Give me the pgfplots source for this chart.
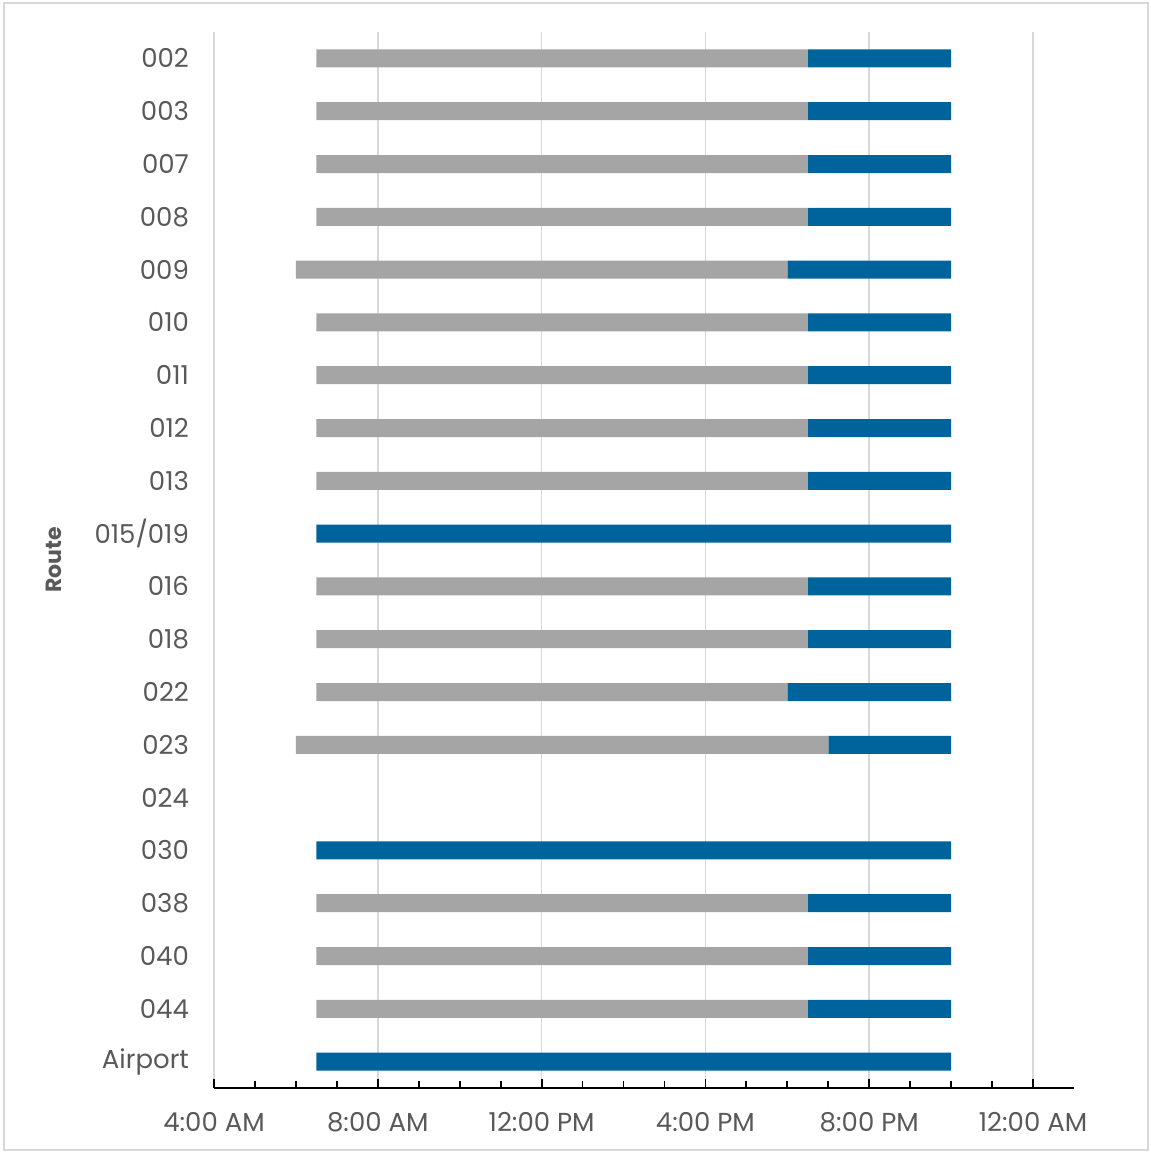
\documentclass[border=0pt]{standalone}
\usepackage{fontspec}
\setmainfont{Poppins}
\usepackage{pgfplots}
\usepackage{pgfplotstable}
\pgfplotsset{compat=1.18}
\definecolor{grayc}{HTML}{A5A5A5}
\definecolor{bluec}{HTML}{00649C}
\definecolor{txt}{HTML}{595959}
\definecolor{gridc}{HTML}{D9D9D9}
\pgfplotstableread{
y start day night
0 6.5 12 3.5
1 6.5 12 3.5
2 6.5 12 3.5
3 6.5 12 3.5
4 6 12 4
5 6.5 12 3.5
6 6.5 12 3.5
7 6.5 12 3.5
8 6.5 12 3.5
9 6.5 0 15.5
10 6.5 12 3.5
11 6.5 12 3.5
12 6.5 11.5 4
13 6 13 3
14 0 0 0
15 6.5 0 15.5
16 6.5 12 3.5
17 6.5 12 3.5
18 6.5 12 3.5
19 6.5 0 15.5
}\data
\begin{document}
\begin{tikzpicture}
\useasboundingbox (-107pt,-32.5pt) rectangle (468.5pt,544pt);
\draw[gridc, line width=0.8pt] (-105pt,-31pt) rectangle (467pt,542.5pt);
\begin{axis}[
  at={(0,0)}, anchor=south west,
  scale only axis, width=430pt, height=528pt,
  xbar stacked, bar width=9pt,
  xmin=4, xmax=25, ymin=-0.5, ymax=19.5, y dir=reverse,
  axis x line*=bottom, axis y line*=left,
  x axis line style={black, line width=0.8pt, -},
  y axis line style={draw=none},
  xtick={4,8,12,16,20,24},
  xticklabels={4:00 AM,8:00 AM,12:00 PM,4:00 PM,8:00 PM,12:00 AM},
  minor xtick={5,6,7,9,10,11,13,14,15,17,18,19,21,22,23},
  tick align=inside,
  major tick length=4.5pt, minor tick length=3.5pt,
  xtick style={black, line width=0.9pt},
  minor tick style={black, line width=0.6pt},
  xmajorgrids, major grid style={gridc, line width=0.8pt},
  ytick={0,...,19},
  yticklabels={002,003,007,008,009,010,011,012,013,015/019,016,018,022,023,024,030,038,040,044,Airport},
  ytick style={draw=none},
  ymajorgrids=false,
  ticklabel style={font=\fontsize{13}{15}\selectfont, text=txt},
  xticklabel style={yshift=-8.5pt},
  yticklabel style={xshift=-9pt},
  ylabel={Route},
  ylabel style={font=\fontsize{11}{13}\selectfont\bfseries, text=txt, at={(axis description cs:-0.186,0.5)}, anchor=center},
  /pgf/number format/assume math mode=true,
  clip=true,
]
\addplot[fill=none, draw=none] table[x=start, y=y]{\data};
\addplot[fill=grayc, draw=none] table[x=day, y=y]{\data};
\addplot[fill=bluec, draw=none] table[x=night, y=y]{\data};
\end{axis}
\end{tikzpicture}
\end{document}
